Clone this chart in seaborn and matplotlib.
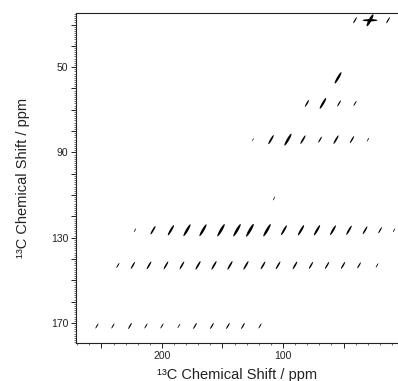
import numpy as np
import pandas as pd
import matplotlib
matplotlib.use("Agg")
import matplotlib.pyplot as plt
from matplotlib.path import Path
from matplotlib.ticker import FixedLocator, MultipleLocator, FuncFormatter
import seaborn as sns

# Peak positions (F2 = x, ppm) and relative heights, one list pair per F1 row (y, ppm)
f1_rows = [28.0, 55.0, 67.0, 84.0, 111.6, 126.5, 143.0, 171.4]

row28_x = [40.5, 28.1, 13.2]
row28_h = [2.0, 10.0, 2.0]

row55_x = [54.5]
row55_h = [6.0]

row67_x = [80.2, 67.0, 53.7, 40.5]
row67_h = [2.5, 5.5, 2.0, 1.5]

row84_x = [124.8, 109.9, 95.9, 83.5, 69.4, 56.2, 43.0, 29.8]
row84_h = [0.8, 4.0, 6.5, 3.5, 2.0, 3.5, 2.5, 1.0]

row112_x = [107.4]
row112_h = [1.0]

row126_x = [222.3, 207.4, 192.6, 179.3, 166.1, 151.2, 138.0, 127.3, 113.2,
            99.2, 85.1, 71.9, 58.7, 45.5, 32.2, 19.8, 8.3]
row126_h = [1.0, 3.5, 5.0, 6.5, 6.5, 7.0, 7.0, 7.5, 7.0,
            4.5, 5.0, 5.0, 4.5, 4.0, 3.0, 2.0, 1.0]

row143_x = [236.4, 224.0, 210.7, 196.7, 183.5, 170.2, 157.0, 143.8, 130.6,
            116.5, 104.1, 90.1, 76.9, 63.6, 50.4, 37.2, 22.3]
row143_h = [1.5, 2.5, 3.0, 3.0, 3.0, 3.5, 3.5, 3.5, 3.5,
            3.0, 3.0, 3.0, 2.5, 2.5, 2.5, 2.0, 1.2]

row171_x = [253.7, 240.5, 226.4, 213.2, 200.0, 186.0, 172.7, 158.7, 145.5, 133.1, 119.0]
row171_h = [1.5, 1.5, 2.0, 1.5, 1.5, 1.2, 2.0, 2.0, 2.0, 2.0, 1.5]

x_major = [250, 200, 150, 100, 50]
x_labels = [200, 100]
y_major = list(range(30, 180, 10))
y_labels = [50, 90, 130, 170]

rows_x = [row28_x, row55_x, row67_x, row84_x, row112_x, row126_x, row143_x, row171_x]
rows_h = [row28_h, row55_h, row67_h, row84_h, row112_h, row126_h, row143_h, row171_h]

frames = []
for f1, xs, hs in zip(f1_rows, rows_x, rows_h):
    frames.append(pd.DataFrame({"f2": xs, "f1": f1, "height": hs}))
df = pd.concat(frames, ignore_index=True)
# the big diagonal peak at the top has a cross-like shape
df["shape"] = np.where(df["height"] >= 10, "cross", "diag")


def ellipse(angle, ratio, scale=1.0, n=48):
    t = np.linspace(0, 2 * np.pi, n)
    x = scale * np.cos(t)
    y = scale * ratio * np.sin(t)
    a = np.deg2rad(angle)
    return np.column_stack([x * np.cos(a) - y * np.sin(a),
                            x * np.sin(a) + y * np.cos(a)])


diag_marker = Path(ellipse(60, 0.18), closed=True)
cross_marker = Path.make_compound_path(
    Path(ellipse(62, 0.22, scale=0.9), closed=True),
    Path(ellipse(0, 0.15), closed=True),
)

sns.set_theme(style="ticks")
plt.rcParams["font.family"] = ["Liberation Sans", "DejaVu Sans"]

fig = plt.figure(figsize=(3.98, 3.81), dpi=100)
ax = fig.add_axes([76 / 398, 1 - 343 / 381, 1 - 76 / 398, 330 / 381])

sns.scatterplot(
    data=df, x="f2", y="f1",
    size="height", sizes=(5, 115),
    style="shape", markers={"diag": diag_marker, "cross": cross_marker},
    color="black", linewidth=0, legend=False, ax=ax,
)

ax.set_xlim(271, 5)
ax.set_ylim(179.4, 24.6)

ax.xaxis.set_major_locator(FixedLocator(x_major))
ax.xaxis.set_minor_locator(MultipleLocator(10))
ax.xaxis.set_major_formatter(FuncFormatter(lambda v, p: f"{v:.0f}" if round(v) in x_labels else ""))
ax.yaxis.set_major_locator(FixedLocator(y_major))
ax.yaxis.set_minor_locator(MultipleLocator(1))
ax.yaxis.set_major_formatter(FuncFormatter(lambda v, p: f"{v:.0f}" if round(v) in y_labels else ""))

ax.tick_params(which="major", direction="out", length=3.5, width=0.7,
               labelsize=7.5, pad=2, color="#222222", labelcolor="#222222")
ax.tick_params(which="minor", direction="out", length=1.6, width=0.45, color="#222222")
ax.tick_params(top=False, right=False)

for side in ["left", "bottom", "top"]:
    ax.spines[side].set_linewidth(0.8)
    ax.spines[side].set_color("#222222")
ax.spines["right"].set_visible(False)

ax.set_xlabel("¹³C Chemical Shift / ppm", fontsize=10.5, color="#222222", labelpad=5)
ax.set_ylabel("¹³C Chemical Shift / ppm", fontsize=10.5, color="#222222", labelpad=15)

fig.savefig("out.png", dpi=100)
